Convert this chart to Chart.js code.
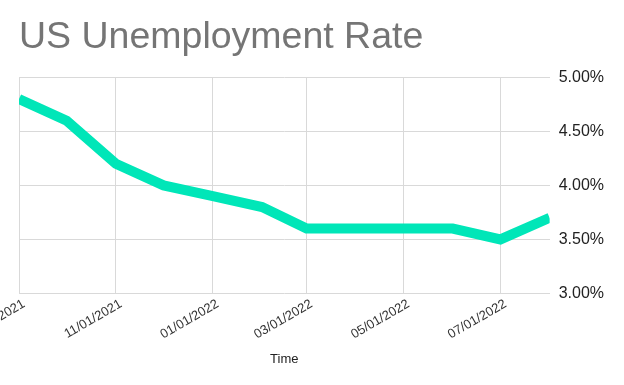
<!DOCTYPE html>
<html>
<head>
<meta charset="utf-8">
<script src="https://cdn.jsdelivr.net/npm/chart.js@4.4.1/dist/chart.umd.min.js"></script>
<style>
  html, body { margin: 0; padding: 0; background: #fff; }
  #wrap { width: 624px; height: 385px; position: relative; }
</style>
</head>
<body>
<div id="wrap"><canvas id="c" width="624" height="385"></canvas></div>
<script>
const dates = ["2021-09-01","2021-10-01","2021-11-01","2021-12-01","2022-01-01","2022-02-01",
               "2022-03-01","2022-04-01","2022-05-01","2022-06-01","2022-07-01","2022-08-01"];
const rates = [4.8, 4.6, 4.2, 4.0, 3.9, 3.8, 3.6, 3.6, 3.6, 3.6, 3.5, 3.7];
const tickDates = ["2021-09-01","2021-11-01","2022-01-01","2022-03-01","2022-05-01","2022-07-01"];
const yTicks = [3.0, 3.5, 4.0, 4.5, 5.0];

const toDay = s => Date.UTC(+s.slice(0,4), +s.slice(5,7)-1, +s.slice(8,10)) / 86400000;
const fmt = d => { const dt = new Date(d*86400000);
  const mm = String(dt.getUTCMonth()+1).padStart(2,'0');
  const dd = String(dt.getUTCDate()).padStart(2,'0');
  return mm + '/' + dd + '/' + dt.getUTCFullYear(); };

const points = dates.map((d,i) => ({x: toDay(d), y: rates[i]}));

new Chart(document.getElementById('c'), {
  type: 'line',
  data: { datasets: [{
    data: points,
    borderColor: '#00E6B8',
    backgroundColor: '#00E6B8',
    borderWidth: 10,
    pointRadius: 0,
    tension: 0,
    clip: 0
  }]},
  options: {
    responsive: false,
    animation: false,
    layout: { padding: { left: 19, right: 11, top: 0, bottom: 14 } },
    plugins: {
      legend: { display: false },
      tooltip: { enabled: false },
      title: {
        display: true, text: 'US Unemployment Rate', align: 'start',
        color: '#757575',
        font: { family: 'Liberation Sans, Arial, sans-serif', size: 37.5, weight: 'normal' },
        padding: { top: 15, bottom: 17.5 }
      }
    },
    scales: {
      x: {
        type: 'linear',
        min: toDay(dates[0]), max: toDay(dates[dates.length-1]),
        afterBuildTicks: s => { s.ticks = tickDates.map(d => ({value: toDay(d)})); },
        afterFit: s => { s.paddingLeft = 0; s.paddingRight = 0; },
        grid: { color: '#d9d9d9', drawTicks: false },
        border: { display: false },
        ticks: {
          minRotation: 30, maxRotation: 30, padding: 3, labelOffset: 5,
          color: '#333',
          font: { family: 'Liberation Sans, Arial, sans-serif', size: 13 },
          callback: v => fmt(v)
        },
        title: { display: true, text: 'Time', color: '#222', padding: { top: 6 },
          font: { family: 'Liberation Sans, Arial, sans-serif', size: 13 } }
      },
      y: {
        position: 'right',
        min: 3, max: 5,
        afterBuildTicks: s => { s.ticks = yTicks.map(v => ({value: v})); },
        grid: { color: '#d9d9d9', drawTicks: false },
        border: { display: false },
        ticks: {
          padding: 9, color: '#222',
          font: { family: 'Liberation Sans, Arial, sans-serif', size: 16 },
          callback: v => v.toFixed(2) + '%'
        }
      }
    }
  }
});
</script>
</body>
</html>
